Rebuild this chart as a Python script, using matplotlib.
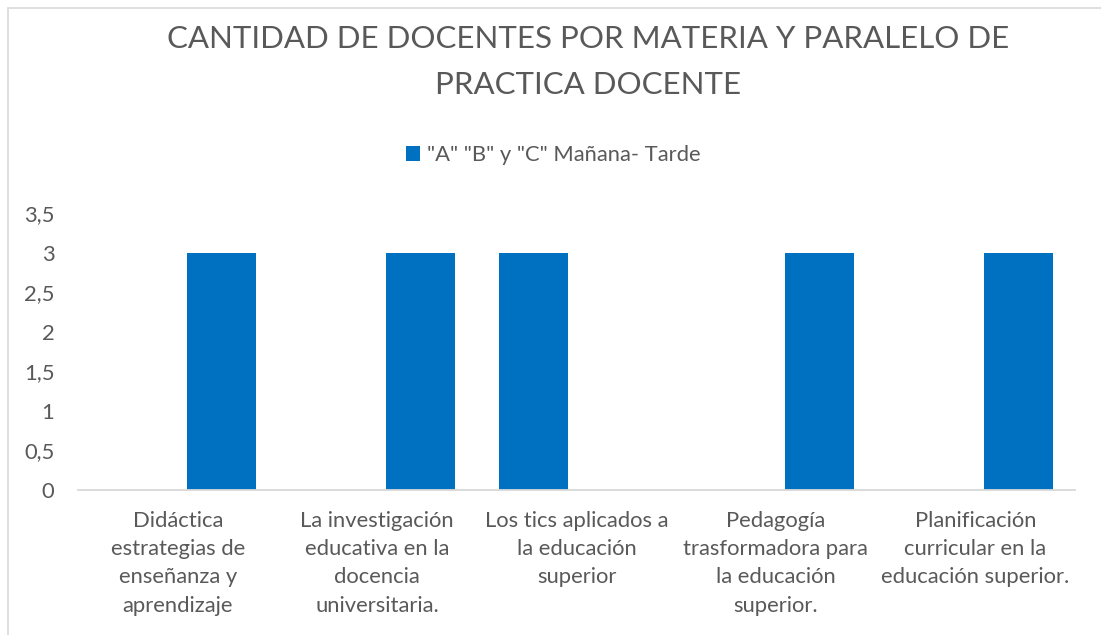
import matplotlib
matplotlib.use("Agg")
import matplotlib.pyplot as plt
from matplotlib.ticker import FuncFormatter, MultipleLocator
from matplotlib.patches import Rectangle
import numpy as np

plt.rcParams['font.family'] = ['Lato', 'DejaVu Sans']

categories = [
    "Didáctica\nestrategias de\nenseñanza y\naprendizaje",
    "La investigación\neducativa en la\ndocencia\nuniversitaria.",
    "Los tics aplicados a\nla educación\nsuperior",
    "Pedagogía\ntrasformadora para\nla educación\nsuperior.",
    "Planificación\ncurricular en la\neducación superior.",
]
series_1 = [np.nan, np.nan, 3, np.nan, np.nan]
series_2 = [3, 3, np.nan, 3, 3]
legend_label = '"A" "B" y "C" Mañana- Tarde'
title = "CANTIDAD DE DOCENTES POR MATERIA Y PARALELO DE\nPRACTICA DOCENTE"

W, H = 1101, 635
fig = plt.figure(figsize=(W / 100, H / 100), dpi=100)
fig.patch.set_facecolor("white")

# chart border
fig.patches.append(Rectangle((8 / W, -0.01), 1.1, 1 - 8 / H + 0.01, transform=fig.transFigure,
                             fill=False, edgecolor="#D9D9D9", linewidth=1.2))

ax = fig.add_axes([78 / W, 1 - 490 / H, (1075 - 78) / W, (490 - 213) / H])
x = np.arange(len(categories))
width = 0.346
off = 0.218
color = "#0070C0"
ax.bar(x - off, series_1, width, color=color)
b2 = ax.bar(x + off, series_2, width, color=color, label=legend_label)

fs = 15.8
ax.set_xlim(-0.5, len(categories) - 0.5)
ax.set_ylim(0, 3.5)
ax.yaxis.set_major_locator(MultipleLocator(0.5))
ax.yaxis.set_major_formatter(FuncFormatter(lambda v, p: ("%g" % v).replace(".", ",")))
ax.set_xticks(x)
ax.set_xticklabels(categories, linespacing=1.52)
ax.tick_params(axis="both", length=0, colors="#595959", labelsize=fs)
ax.tick_params(axis="y", pad=17)
ax.tick_params(axis="x", pad=15)
for s in ["top", "right", "left"]:
    ax.spines[s].set_visible(False)
ax.spines["bottom"].set_color("#D9D9D9")
ax.spines["bottom"].set_linewidth(1.3)

fig.text(588 / W, 1 - 62 / H, title, ha="center", va="center", fontsize=22.5,
         color="#595959", linespacing=1.82)

fig.legend(handles=[b2], labels=[legend_label], loc="center",
           bbox_to_anchor=(553 / W, 1 - 155 / H), frameon=False, fontsize=fs,
           handlelength=0.65, handleheight=0.65, handletextpad=0.3, labelcolor="#595959")

fig.savefig("out.png", dpi=100)
